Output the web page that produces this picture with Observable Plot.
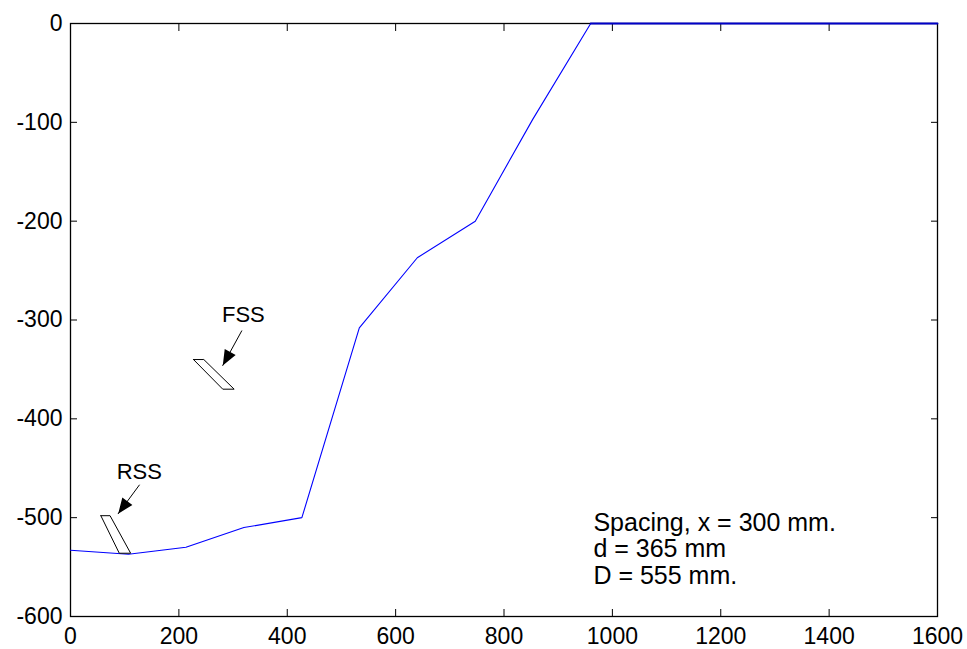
<!DOCTYPE html>
<html>
<head>
<meta charset="utf-8">
<script src="https://cdn.jsdelivr.net/npm/d3@7"></script>
<script src="https://cdn.jsdelivr.net/npm/@observablehq/plot@0.6"></script>
<style>
  html, body { margin: 0; padding: 0; background: #ffffff; }
  #chart { width: 967px; height: 649px; }
</style>
</head>
<body>
<div id="chart"></div>
<script>
// ---- Data ----
const xValues = [0, 107, 213, 320, 427, 533, 640, 747, 853, 960, 1067, 1173, 1280, 1387, 1493, 1600];
const yValues = [-533, -537, -530, -510, -500, -308, -237, -200, -97, 0, 0, 0, 0, 0, 0, 0];

const xTicks = [0, 200, 400, 600, 800, 1000, 1200, 1400, 1600];
const yTicks = [-600, -500, -400, -300, -200, -100, 0];

// stiffener outlines (closed parallelograms)
const rssShapeX = [56, 73, 111, 90, 56];
const rssShapeY = [-498, -498, -536, -536, -498];
const fssShapeX = [227, 246, 302, 281, 227];
const fssShapeY = [-340, -340, -370, -370, -340];

// labels and arrows
const arrowLabels = ["RSS", "FSS"];
const labelX = [127, 319];
const labelY = [-454, -295];
const arrowFromX = [127, 316];
const arrowFromY = [-467, -311];
const arrowToX = [88, 281];
const arrowToY = [-496, -346];

// note text
const noteLines = ["Spacing, x = 300 mm.", "d = 365 mm", "D = 555 mm."];
const noteX = [965];
const noteY = [-494];

// ---- Build tables ----
const profile = xValues.map((x, i) => ({x, y: yValues[i]}));
const rss = rssShapeX.map((x, i) => ({x, y: rssShapeY[i]}));
const fss = fssShapeX.map((x, i) => ({x, y: fssShapeY[i]}));
const labels = arrowLabels.map((t, i) => ({t, x: labelX[i], y: labelY[i]}));
const arrows = arrowFromX.map((x1, i) => ({x1, y1: arrowFromY[i], x2: arrowToX[i], y2: arrowToY[i]}));
const note = [{t: noteLines.join("\n"), x: noteX[0], y: noteY[0]}];

const fmt = d => String(d);
const blank = () => "";

const chart = Plot.plot({
  width: 967,
  height: 649,
  marginLeft: 70,
  marginRight: 30,
  marginTop: 23,
  marginBottom: 33,
  style: {
    fontFamily: "Arial, 'Liberation Sans', sans-serif",
    fontSize: "23px",
    color: "black",
    background: "white"
  },
  x: {domain: [0, 1600], label: null},
  y: {domain: [-600, 0], label: null},
  marks: [
    Plot.axisX(xTicks, {anchor: "bottom", tickSize: 0, tickPadding: 11, tickFormat: fmt, label: null, fontSize: 23}),
    Plot.axisX(xTicks, {anchor: "bottom", tickSize: -7, tickFormat: blank, label: null}),
    Plot.axisX(xTicks, {anchor: "top", tickSize: -7, tickFormat: blank, label: null}),
    Plot.axisY(yTicks, {anchor: "left", tickSize: 0, tickPadding: 8, tickFormat: fmt, label: null, fontSize: 23}),
    Plot.axisY(yTicks, {anchor: "left", tickSize: -7, tickFormat: blank, label: null}),
    Plot.axisY(yTicks, {anchor: "right", tickSize: -7, tickFormat: blank, label: null}),
    Plot.frame({stroke: "black", strokeWidth: 1.3}),
    Plot.line(profile, {x: "x", y: "y", stroke: "#0000ff", strokeWidth: 1.1}),
    Plot.line(profile.filter(d => d.y === 0), {x: "x", y: "y", stroke: "#0000c8", strokeWidth: 1.8}),
    Plot.line(rss, {x: "x", y: "y", stroke: "black", strokeWidth: 1, fill: "white"}),
    Plot.line(fss, {x: "x", y: "y", stroke: "black", strokeWidth: 1, fill: "white"}),
    // arrow shafts
    Plot.arrow(arrows, {x1: "x1", y1: "y1", x2: "x2", y2: "y2", stroke: "black", strokeWidth: 1, headLength: 0}),
    // filled arrow heads (shaft extended back so the head is not shortened; shaft invisible)
    Plot.arrow(arrows, {
      x1: d => d.x2 + 3 * (d.x1 - d.x2), y1: d => d.y2 + 3 * (d.y1 - d.y2),
      x2: "x2", y2: "y2",
      stroke: "none", fill: "black", strokeWidth: 1, headLength: 25, headAngle: 44
    }),
    Plot.text(labels, {x: "x", y: "y", text: "t", fontSize: 22, fill: "black", textAnchor: "middle", lineAnchor: "middle"}),
    Plot.text(note, {x: "x", y: "y", text: "t", fontSize: 25, fill: "black", textAnchor: "start", lineAnchor: "top", lineHeight: 1.06})
  ]
});

document.getElementById("chart").appendChild(chart);
</script>
</body>
</html>
